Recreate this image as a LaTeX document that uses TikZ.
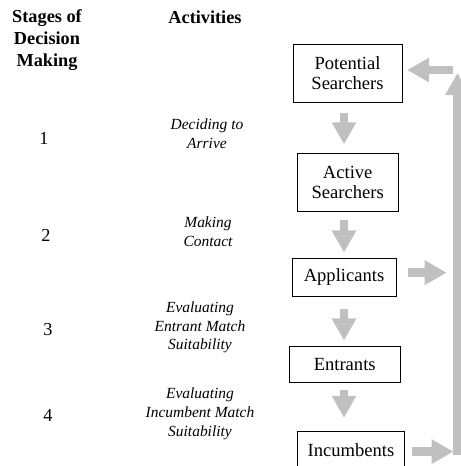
\documentclass[tikz,border=0pt]{standalone}
\usepackage{fontspec}
\setmainfont{Liberation Serif}
\usetikzlibrary{arrows.meta}
\definecolor{G0}{HTML}{C0C0C0}

\begin{document}
\begin{tikzpicture}[x=0.025cm, y=-0.025cm,
  stagebox/.style={draw, line width=0.6pt, text centered, align=center, font=\fontsize{13.2}{14.5}\selectfont},
  headtext/.style={align=center, font=\bfseries\fontsize{13}{15.4}\selectfont},
  numtext/.style={font=\fontsize{13}{15}\selectfont},
  acttext/.style={align=center, font=\itshape\fontsize{11}{13.3}\selectfont},
  blk/.style={draw=G0, line width=0.22cm, -{Triangle[length=0.55cm, width=0.58cm]}}]%
\useasboundingbox (0,0) rectangle (460,466);%
\node[headtext] (hstage) at (47,40) {Stages of\\Decision\\Making};%
\node[headtext] (hact) at (205,17) {Activities};%
\node[numtext] (n1) at (44,138) {1};%
\node[numtext] (n2) at (46,235) {2};%
\node[numtext] (n3) at (48,330) {3};%
\node[numtext] (n4) at (48,415) {4};%
\node[acttext] (a1) at (207,134) {Deciding to\\Arrive};%
\node[acttext] (a2) at (208,232) {Making\\Contact};%
\node[acttext] (a3) at (200,327.5) {Evaluating\\Entrant Match\\Suitability};%
\node[acttext] (a4) at (200,414) {Evaluating\\Incumbent Match\\Suitability};%
\node[stagebox, minimum width=2.725cm, minimum height=1.45cm] (pot) at (347.5,73) {Potential\\Searchers};%
\node[stagebox, minimum width=2.525cm, minimum height=1.45cm] (act) at (347.7,182.5) {Active\\Searchers};%
\node[stagebox, minimum width=2.6cm, minimum height=0.95cm] (app) at (344,277.5) {Applicants};%
\node[stagebox, minimum width=2.775cm, minimum height=0.9cm] (ent) at (344.7,364.5) {Entrants};%
\node[stagebox, minimum width=2.665cm, minimum height=0.95cm] (inc) at (351,450) {Incumbents};%
\coordinate (axis) at (344,0);%
\coordinate (loopbot) at (457.5,455);%
\coordinate (looptop) at (457.5,73);%
\coordinate (backin) at (453.3,70);%
\draw[blk, shorten <=0.27cm, shorten >=0.22cm] (pot.south -| axis) -- (act.north -| axis);%
\draw[blk, shorten <=0.21cm, shorten >=0.14cm] (act.south -| axis) -- (app.north -| axis);%
\draw[blk, shorten <=0.29cm, shorten >=0.14cm] (app.south -| axis) -- (ent.north -| axis);%
\draw[blk, shorten <=0.17cm, shorten >=0.32cm] (ent.south -| axis) -- (inc.north -| axis);%
\draw[blk, shorten <=0.29cm, shorten >=0.27cm] ([yshift=0.12cm]app.east) -- ([yshift=0.12cm]app.east -| loopbot);%
\draw[blk, shorten <=0.18cm, shorten >=0.1cm] ([yshift=-0.04cm]inc.east) -- ([yshift=-0.04cm]inc.east -| loopbot);%
\draw[blk] (loopbot) -- (looptop);%
\draw[blk, shorten >=0.12cm] (backin) -- (pot.east |- backin);%
\end{tikzpicture}
\end{document}
